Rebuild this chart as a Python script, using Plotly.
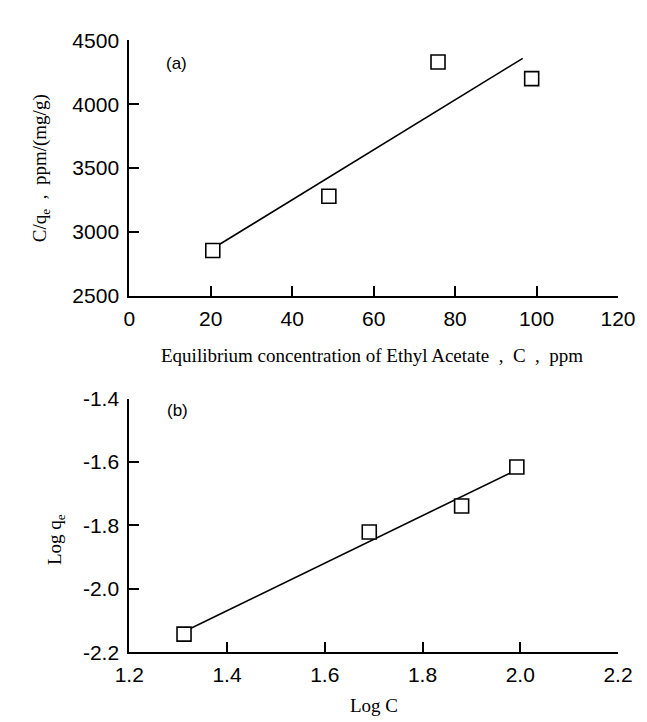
import plotly.graph_objects as go

# Panel (a): Langmuir-type plot
conc_a = [20.5, 49.0, 75.8, 98.8]
cq_a = [2855, 3280, 4330, 4200]
fit_a_x = [21.1, 96.6]
fit_a_y = [2883, 4359]

# Panel (b): Freundlich-type plot
logc_b = [1.312, 1.691, 1.880, 1.993]
logq_b = [-2.143, -1.821, -1.739, -1.616]
fit_b_x = [1.323, 1.983]
fit_b_y = [-2.127, -1.632]

xa_ticks = [0, 20, 40, 60, 80, 100, 120]
xa_labels = ["0", "20", "40", "60", "80", "100", "120"]
ya_ticks = [2500, 3000, 3500, 4000, 4500]
ya_labels = ["2500", "3000", "3500", "4000", "4500"]
xb_ticks = [1.2, 1.4, 1.6, 1.8, 2.0, 2.2]
xb_labels = ["1.2", "1.4", "1.6", "1.8", "2.0", "2.2"]
yb_ticks = [-2.2, -2.0, -1.8, -1.6, -1.4]
yb_labels = ["-2.2", "-2.0", "-1.8", "-1.6", "-1.4"]

W, H = 647, 722
def px_x(p): return p / W
def px_y(p): return 1 - p / H

fig = go.Figure()
fig.add_trace(go.Scatter(x=fit_a_x, y=fit_a_y, mode="lines", line=dict(color="black", width=1.6),
                         xaxis="x", yaxis="y", showlegend=False))
fig.add_trace(go.Scatter(x=conc_a, y=cq_a, mode="markers",
                         marker=dict(symbol="square", size=14, color="white", line=dict(color="black", width=1.6)),
                         xaxis="x", yaxis="y", showlegend=False))
fig.add_trace(go.Scatter(x=fit_b_x, y=fit_b_y, mode="lines", line=dict(color="black", width=1.6),
                         xaxis="x2", yaxis="y2", showlegend=False))
fig.add_trace(go.Scatter(x=logc_b, y=logq_b, mode="markers",
                         marker=dict(symbol="square", size=14, color="white", line=dict(color="black", width=1.6)),
                         xaxis="x2", yaxis="y2", showlegend=False))

tickfont = dict(family="Liberation Sans, Arial", size=21, color="black")
common = dict(showgrid=False, zeroline=False, showline=True, linecolor="black", linewidth=2,
              ticks="inside", ticklen=10, tickwidth=1.5, tickcolor="black", tickfont=tickfont)

xd = [px_x(112), px_x(627)]
fig.update_layout(
    width=W, height=H, margin=dict(l=0, r=0, t=0, b=0),
    paper_bgcolor="white", plot_bgcolor="white", showlegend=False,
    xaxis=dict(domain=xd, range=[0, 120], tickvals=xa_ticks, ticktext=xa_labels, anchor="y",
               ticklabelstandoff=3, **common),
    yaxis=dict(domain=[px_y(285), px_y(21)], range=[2500, 4500], tickvals=ya_ticks, ticktext=ya_labels,
               anchor="x", ticklabelstandoff=4, **common),
    xaxis2=dict(domain=xd, range=[1.2, 2.2], tickvals=xb_ticks, ticktext=xb_labels, anchor="y2",
                ticklabelstandoff=3, **common),
    yaxis2=dict(domain=[px_y(653), px_y(391)], range=[-2.2, -1.4], tickvals=yb_ticks, ticktext=yb_labels,
                anchor="x2", ticklabelstandoff=4, **common),
)

serif = dict(family="Liberation Serif, Times New Roman", size=19, color="black")
sp = "\u2002"
ann = [
    dict(text="Equilibrium concentration of Ethyl Acetate" + sp + "," + sp + "C" + sp + "," + sp + "ppm",
         x=px_x(368), y=px_y(347)),
    dict(text="Log C", x=px_x(370), y=px_y(708)),
    dict(text="C/q<sub>e</sub>" + sp + "," + sp + "ppm/(mg/g)", x=px_x(19), y=px_y(153), textangle=-90),
    dict(text="Log q<sub>e</sub>", x=px_x(35), y=px_y(537), textangle=-90),
]
for a in ann:
    fig.add_annotation(xref="paper", yref="paper", showarrow=False, xanchor="center", yanchor="middle",
                       font=serif, **a)
lab = dict(family="Liberation Sans, Arial", size=17, color="black")
fig.add_annotation(text="(a)", xref="paper", yref="paper", x=px_x(149), y=px_y(33), showarrow=False, font=lab)
fig.add_annotation(text="(b)", xref="paper", yref="paper", x=px_x(150), y=px_y(403), showarrow=False, font=lab)

fig.write_html("out.html")
